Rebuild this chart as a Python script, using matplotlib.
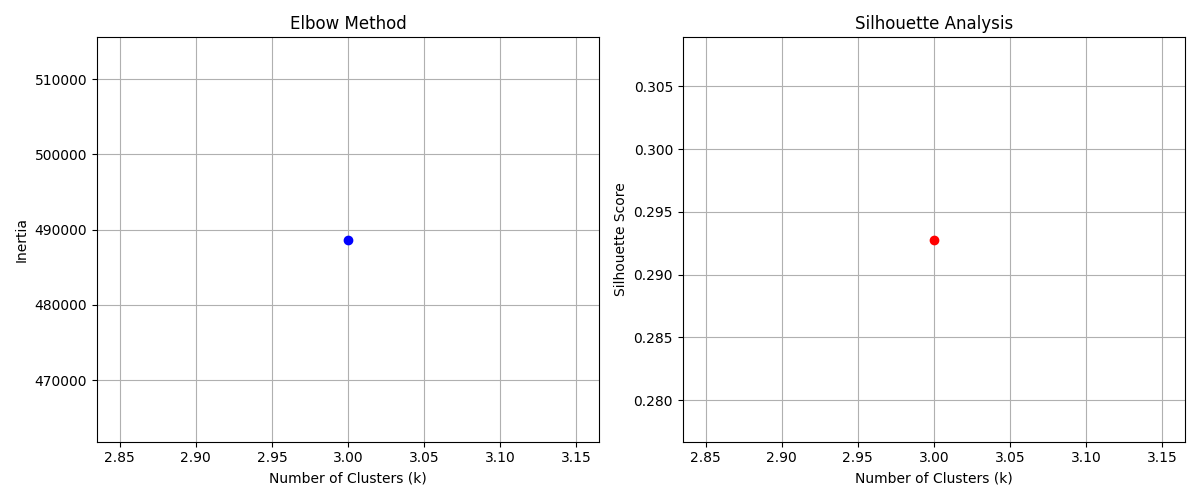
import matplotlib
matplotlib.use('Agg')
import matplotlib.pyplot as plt

# Valores de k testados e métricas
k_values = [3]
inertias = [488680]
silhouette_scores = [0.2928]

fig, (ax1, ax2) = plt.subplots(1, 2, figsize=(12, 5))

# Elbow
ax1.plot(k_values, inertias, 'bo-')
ax1.set_title('Elbow Method')
ax1.set_xlabel('Number of Clusters (k)')
ax1.set_ylabel('Inertia')
ax1.grid(True)

# Silhouette
ax2.plot(k_values, silhouette_scores, 'ro-')
ax2.set_title('Silhouette Analysis')
ax2.set_xlabel('Number of Clusters (k)')
ax2.set_ylabel('Silhouette Score')
ax2.grid(True)

plt.tight_layout()
plt.savefig('out.png', dpi=100)
